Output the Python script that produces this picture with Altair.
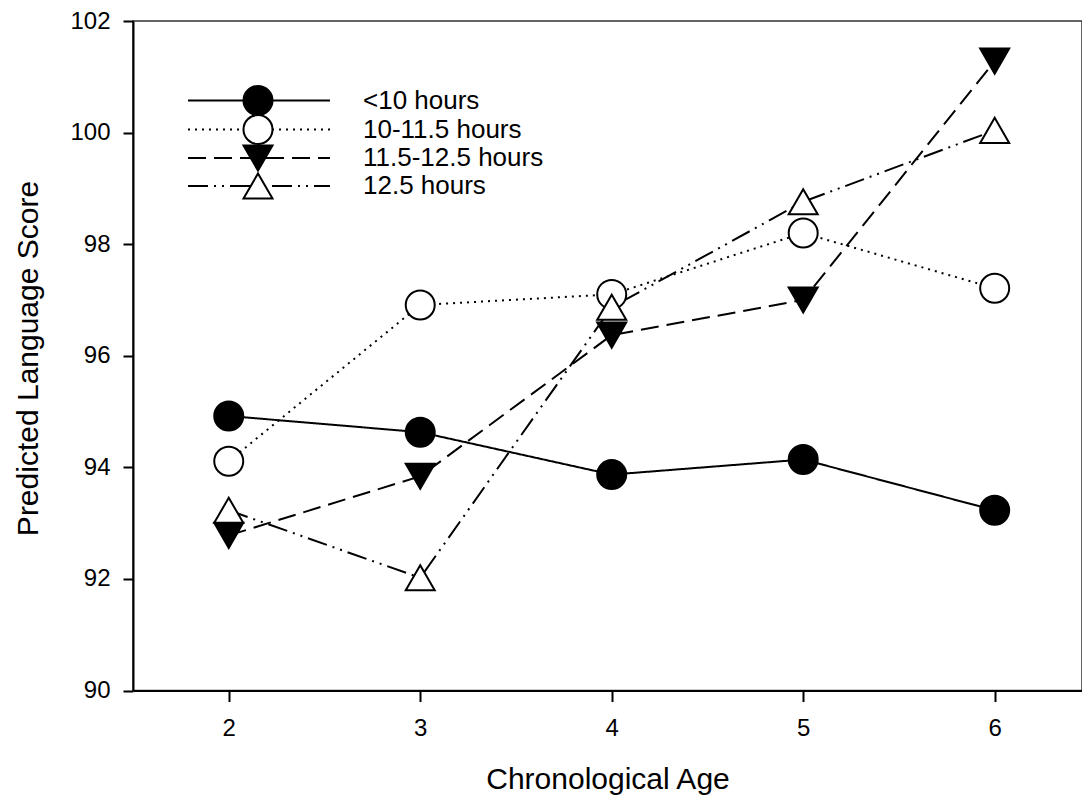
import altair as alt
import pandas as pd

ages = [2, 3, 4, 5, 6]
series_names = ["<10 hours", "10-11.5 hours", "11.5-12.5 hours", "12.5 hours"]
lt10 = [94.92, 94.63, 93.87, 94.14, 93.23]
h10_115 = [94.11, 96.91, 97.10, 98.20, 97.21]
h115_125 = [92.78, 93.84, 96.37, 97.00, 101.28]
h125 = [93.23, 92.02, 96.87, 98.76, 100.04]
y_ticks = [90, 92, 94, 96, 98, 100, 102]
x_ticks = [2, 3, 4, 5, 6]

values = [lt10, h10_115, h115_125, h125]
dashes = [[1, 0], [2, 5], [18, 8], [20, 6, 2, 6, 2, 6]]
shapes = ["circle", "circle", "triangle-down", "triangle-up"]
fills = ["black", "white", "black", "white"]

rows = []
for si, (name, vals) in enumerate(zip(series_names, values)):
    for a, v in zip(ages, vals):
        rows.append({"series": name, "age": a, "score": v, "order": si})
df = pd.DataFrame(rows)

FONT = "Liberation Sans"

x_enc = alt.X(
    "age:Q",
    scale=alt.Scale(domain=[1.5, 6.456], nice=False, zero=False),
    axis=alt.Axis(
        values=x_ticks, format="d", title="Chronological Age", grid=False,
        tickSize=11, tickWidth=2, tickColor="black",
        domainWidth=2, domainColor="black",
        labelFontSize=24, labelFont=FONT, labelColor="black", labelPadding=15,
        titleFontSize=30, titleFont=FONT, titleColor="black", titleFontWeight="normal",
        titleBaseline="alphabetic", titleY=98,
    ),
)
y_enc = alt.Y(
    "score:Q",
    scale=alt.Scale(domain=[90, 102], nice=False, zero=False),
    axis=alt.Axis(
        values=y_ticks, format="d", title="Predicted Language Score", grid=False,
        tickSize=10, tickWidth=2, tickColor="black",
        domainWidth=2, domainColor="black",
        labelFontSize=24, labelFont=FONT, labelColor="black", labelPadding=13,
        titleFontSize=30, titleFont=FONT, titleColor="black", titleFontWeight="normal",
        titleAngle=270, titleBaseline="alphabetic", titleX=-96, titleY=337,
        titleAlign="center",
    ),
)

base = alt.Chart(df)

lines = base.mark_line(color="black", strokeWidth=2).encode(
    x=x_enc,
    y=y_enc,
    strokeDash=alt.StrokeDash(
        "series:N",
        scale=alt.Scale(domain=series_names, range=dashes),
        legend=None,
    ),
    order="age:Q",
)

points = base.mark_point(size=841, stroke="black", strokeWidth=2, opacity=1).encode(
    x="age:Q",
    y="score:Q",
    shape=alt.Shape("series:N", scale=alt.Scale(domain=series_names, range=shapes), legend=None),
    fill=alt.Fill("series:N", scale=alt.Scale(domain=series_names, range=fills), legend=None),
)

layers = [lines, points]

leg_y = [79.5, 108.5, 137, 165]
for i, name in enumerate(series_names):
    ldf = pd.DataFrame({"series": [name]})
    lc = alt.Chart(ldf)
    rule_kwargs = dict(color="black", strokeWidth=2)
    if i > 0:
        rule_kwargs["strokeDash"] = dashes[i]
    layers.append(
        lc.mark_rule(**rule_kwargs).encode(
            x=alt.value(55), x2=alt.value(197), y=alt.value(leg_y[i])
        )
    )
    layers.append(
        lc.mark_point(
            shape=shapes[i], size=841, fill=fills[i], stroke="black",
            strokeWidth=2, opacity=1, filled=False,
        ).encode(x=alt.value(125), y=alt.value(leg_y[i]))
    )
    layers.append(
        lc.mark_text(
            align="left", baseline="middle", fontSize=26, font=FONT, color="black"
        ).encode(x=alt.value(230), y=alt.value(leg_y[i]), text="series:N")
    )

chart = alt.layer(*layers).properties(
    width=949,
    height=669.5,
    padding={"left": 125, "top": 13, "right": 0, "bottom": 105.5},
    autosize=alt.AutoSizeParams(type="none"),
    background="white",
).configure_view(stroke="#333333", strokeWidth=1.5)

chart.save("out.html", embed_options={"renderer": "svg", "actions": False})
